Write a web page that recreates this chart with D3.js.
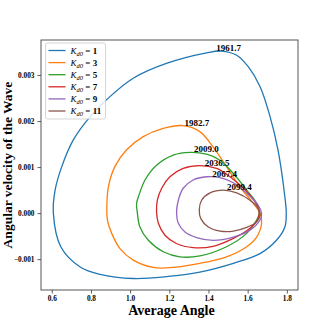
<!DOCTYPE html>
<html>
<head>
<meta charset="utf-8">
<script src="https://cdn.jsdelivr.net/npm/d3@7"></script>
<style>
  body { margin: 0; background: #fff; }
  text { font-family: "Liberation Serif", "DejaVu Serif", serif; }
</style>
</head>
<body>
<script>
// loop points [average angle, angular velocity]
const k1 = [[0.608, 0.0], [0.617, 0.0005], [0.651, 0.00101], [0.71, 0.00159], [0.795, 0.00209],
  [0.897, 0.00253], [1.016, 0.00293], [1.185, 0.00325], [1.39, 0.00348], [1.466, 0.00352],
  [1.544, 0.00343], [1.603, 0.00318], [1.663, 0.00275], [1.714, 0.0021], [1.755, 0.00137],
  [1.79, 0.00035], [1.797, 0.0], [1.79, -0.0003], [1.747, -0.00059], [1.663, -0.00088],
  [1.527, -0.00109], [1.356, -0.00128], [1.185, -0.00138], [1.016, -0.00142], [0.846, -0.00133],
  [0.745, -0.00117], [0.646, -0.00073]];
const k3 = [[0.881, 0.0001], [0.889, 0.00057], [0.922, 0.00101], [0.981, 0.00137], [1.067, 0.00166],
  [1.169, 0.00184], [1.272, 0.0019], [1.356, 0.00177], [1.423, 0.00144], [1.492, 0.00101],
  [1.56, 0.00057], [1.629, 0.00021], [1.663, 0.0], [1.671, -0.00022], [1.646, -0.00052],
  [1.595, -0.00073], [1.492, -0.00095], [1.356, -0.00109], [1.185, -0.00119], [1.118, -0.00118],
  [1.016, -0.00102], [0.948, -0.00077], [0.906, -0.00044], [0.884, -0.00015]];
const k5 = [[1.033, 0.00021], [1.037, 0.0], [1.05, -0.0003], [1.093, -0.00059], [1.169, -0.00084],
  [1.254, -0.00095], [1.356, -0.00093], [1.492, -0.00073], [1.595, -0.00044], [1.646, -0.00015],
  [1.659, 0.0], [1.646, 0.00021], [1.595, 0.0005], [1.527, 0.00086], [1.459, 0.00115],
  [1.39, 0.00128], [1.306, 0.00132], [1.22, 0.00126], [1.135, 0.00104], [1.076, 0.00072],
  [1.042, 0.00035]];
const k7 = [[1.135, 0.00003], [1.144, -0.00022], [1.178, -0.00048], [1.236, -0.00066], [1.322, -0.00075],
  [1.424, -0.00072], [1.527, -0.00055], [1.612, -0.00033], [1.654, -0.00012], [1.659, 0.00003],
  [1.637, 0.00025], [1.578, 0.00054], [1.51, 0.00079], [1.441, 0.00097], [1.356, 0.00103],
  [1.271, 0.00097], [1.203, 0.00079], [1.161, 0.00054], [1.139, 0.00028]];
const k9 = [[1.237, 0.0], [1.246, -0.00022], [1.28, -0.00041], [1.339, -0.00053], [1.424, -0.00059],
  [1.527, -0.00052], [1.612, -0.00037], [1.663, -0.00015], [1.671, 0.0], [1.654, 0.00017],
  [1.595, 0.00043], [1.527, 0.00066], [1.459, 0.00077], [1.39, 0.00079], [1.322, 0.00072],
  [1.271, 0.00054], [1.246, 0.00028]];
const k11 = [[1.353, 0.00007], [1.361, -0.00012], [1.399, -0.0003], [1.459, -0.00039], [1.527, -0.00039],
  [1.595, -0.00031], [1.646, -0.00019], [1.663, -0.00004], [1.654, 0.0001], [1.612, 0.00028],
  [1.544, 0.00044], [1.476, 0.0005], [1.408, 0.00044], [1.365, 0.00028]];

const kd0 = ["1", "3", "5", "7", "9", "11"];
const peakLabels = ["1961.7", "1982.7", "2009.0", "2036.5", "2067.4", "2099.4"];
const peakX = [1.44, 1.277, 1.326, 1.381, 1.419, 1.494];
const peakY = [0.00353, 0.0019, 0.00132, 0.00102, 0.00079, 0.0005];
const xTicks = [0.6, 0.8, 1.0, 1.2, 1.4, 1.6, 1.8];
const yTicks = [-0.001, 0, 0.001, 0.002, 0.003];

const loops = [k1, k3, k5, k7, k9, k11];
const colors = ["#1f77b4", "#ff7f0e", "#2ca02c", "#d62728", "#9467bd", "#8c564b"];

const W = 332, H = 332;
const margin = {top: 40, right: 34, bottom: 42, left: 41},
      width = W - margin.left - margin.right,
      height = H - margin.top - margin.bottom;

const svg = d3.select("body").append("svg")
    .attr("width", W)
    .attr("height", H);
const g = svg.append("g")
    .attr("transform", `translate(${margin.left},${margin.top})`);

const x = d3.scaleLinear().domain([0.545, 1.857]).range([0, width]);
const y = d3.scaleLinear().domain([-0.00167, 0.00376]).range([height, 0]);

const xAxis = g.append("g")
    .attr("transform", `translate(0,${height})`)
    .call(d3.axisBottom(x).tickValues(xTicks).tickFormat(d3.format(".1f")).tickSizeOuter(0).tickSize(3.5).tickPadding(2.5));
const yAxis = g.append("g")
    .call(d3.axisLeft(y).tickValues(yTicks).tickFormat(d => d === 0 ? "0.000" : d3.format(".3f")(d).replace("-", "\u2212")).tickSizeOuter(0).tickSize(3.5).tickPadding(3));

[xAxis, yAxis].forEach(a => {
  a.select(".domain").remove();
  a.selectAll("line").attr("stroke", "#333").attr("stroke-width", 0.8);
  a.selectAll("text")
      .style("font-family", "'Liberation Serif', serif")
      .style("font-weight", "bold")
      .style("font-size", "7.3px")
      .attr("fill", "#000");
});

g.append("rect")
    .attr("width", width).attr("height", height)
    .attr("fill", "none").attr("stroke", "#444").attr("stroke-width", 0.9);

const line = d3.line()
    .x(d => x(d[0])).y(d => y(d[1]))
    .curve(d3.curveCatmullRomClosed.alpha(0.5));

g.selectAll(".loop")
    .data(loops)
  .enter().append("path")
    .attr("class", "loop")
    .attr("d", line)
    .attr("fill", "none")
    .attr("stroke", (d, i) => colors[i])
    .attr("stroke-width", 1.3);

g.selectAll(".peak")
    .data(peakLabels)
  .enter().append("text")
    .attr("class", "peak")
    .attr("x", (d, i) => x(peakX[i]))
    .attr("y", (d, i) => y(peakY[i]))
    .style("font-weight", "bold")
    .style("font-size", "9px")
    .text(d => d);

// legend
const legend = g.append("g").attr("transform", "translate(4.5,3)");
legend.append("rect")
    .attr("width", 60).attr("height", 76).attr("rx", 2)
    .attr("fill", "#fff").attr("fill-opacity", 0.8)
    .attr("stroke", "#ccc").attr("stroke-width", 0.8);

const items = legend.selectAll(".item")
    .data(kd0)
  .enter().append("g")
    .attr("class", "item")
    .attr("transform", (d, i) => `translate(0,${7.5 + i * 12.1})`);
items.append("line")
    .attr("x1", 3).attr("x2", 20)
    .attr("stroke", (d, i) => colors[i]).attr("stroke-width", 1.3);
const lt = items.append("text")
    .attr("x", 25).attr("y", 3)
    .style("font-size", "9px");
lt.append("tspan").style("font-style", "italic").text("K");
lt.append("tspan").style("font-style", "italic").style("font-size", "6.5px").attr("dy", 2).text("d0");
lt.append("tspan").attr("dy", -2).style("font-weight", "bold").text(d => " = " + d);

svg.append("text")
    .attr("x", margin.left + width / 2 + 2)
    .attr("y", 315)
    .attr("text-anchor", "middle")
    .style("font-weight", "bold")
    .style("font-size", "14px")
    .text("Average Angle");

svg.append("text")
    .attr("transform", "translate(12,165) rotate(-90)")
    .attr("text-anchor", "middle")
    .style("font-weight", "bold")
    .style("font-size", "13.5px")
    .text("Angular velocity of the Wave");
</script>
</body>
</html>
